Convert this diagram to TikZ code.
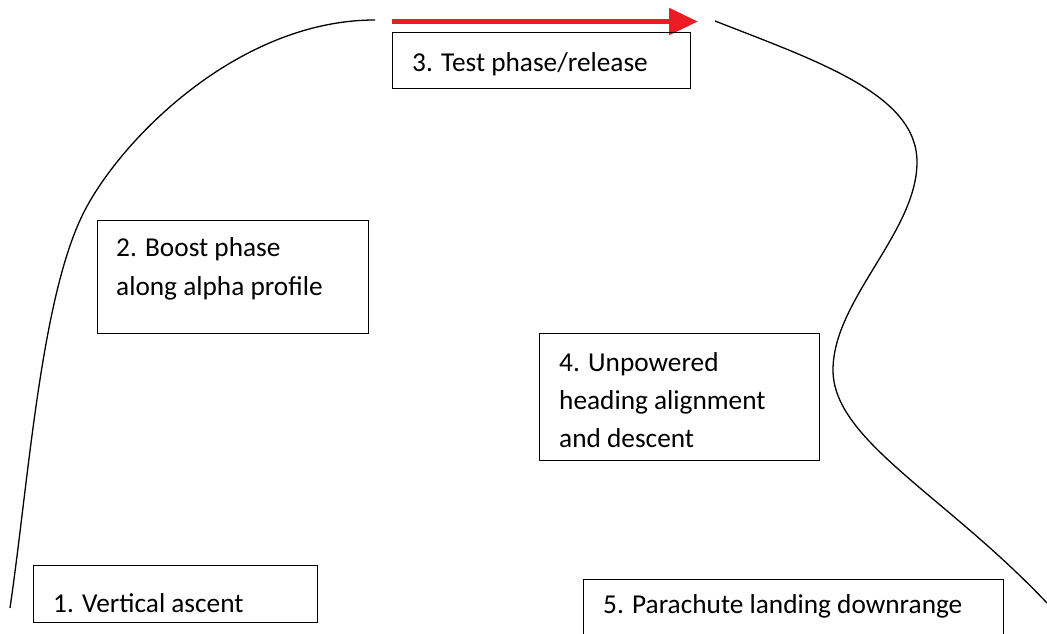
\documentclass[tikz,border=0pt]{standalone}
\usepackage{fontspec}
\setmainfont{Carlito}
\usetikzlibrary{arrows.meta,calc}
\definecolor{arrowred}{RGB}{237,28,36}
\tikzset{
  phasebox/.style={draw=black, line width=1.4pt, fill=none, inner sep=0pt, anchor=north west},
  phasetext/.style={inner sep=0pt, anchor=base west, align=left, font=\fontsize{27.3}{38}\selectfont},
  trajectory/.style={draw=black, line width=1.3pt},
  releasearrow/.style={draw=arrowred, line width=5.5pt, -{Triangle[length=29pt,width=26pt]}}
}
\begin{document}
\begin{tikzpicture}[x=1pt,y=-1pt]
\useasboundingbox (0,0) rectangle (1047,633);
\clip (0,0) rectangle (1047,633);
\fill[white] (0,0) rectangle (1047,633);

% trajectory curves
\coordinate (l0) at (10,608);
\coordinate (l1) at (85,210);
\coordinate (l2) at (375,20);
\draw[trajectory] (l0) .. controls (29,478) and (41,294) .. (l1)
                       .. controls (123.5,136.5) and (240,20) .. (l2);

\coordinate (r0) at (715,21);
\coordinate (r1) at (917,162);
\coordinate (r2) at (833,370);
\coordinate (r3) at (1047,603);
\draw[trajectory] (r0) .. controls (820,62) and (917,95) .. (r1)
                       .. controls (917,232) and (833,300) .. (r2)
                       .. controls (833,440) and (945,495) .. (r3);

% release arrow
\coordinate (arrowstart) at (392,21.5);
\coordinate (arrowend) at (698,21.5);
\draw[releasearrow] (arrowstart) -- (arrowend);

% boxes
\node[phasebox, minimum width=298pt, minimum height=56pt] (box3) at (392,32) {};
\node[phasetext] (t3) at ($(box3.north west)+(20,39)$) {3. Test phase/release};

\node[phasebox, minimum width=271pt, minimum height=113pt] (box2) at (97,220) {};
\node[phasetext] (t2a) at ($(box2.north west)+(19,36)$) {2. Boost phase};
\node[phasetext] (t2b) at ($(box2.north west)+(19,75)$) {along alpha profile};

\node[phasebox, minimum width=280pt, minimum height=127pt] (box4) at (539,333) {};
\node[phasetext] (t4a) at ($(box4.north west)+(20,38)$) {4. Unpowered};
\node[phasetext] (t4b) at ($(box4.north west)+(20,76)$) {heading alignment};
\node[phasetext] (t4c) at ($(box4.north west)+(20,114)$) {and descent};

\node[phasebox, minimum width=284pt, minimum height=57pt] (box1) at (33,565) {};
\node[phasetext] (t1) at ($(box1.north west)+(20,47)$) {1. Vertical ascent};

\node[phasebox, minimum width=420pt, minimum height=80pt] (box5) at (583,579) {};
\node[phasetext] (t5) at ($(box5.north west)+(20,34)$) {5. Parachute landing downrange};
\end{tikzpicture}
\end{document}
